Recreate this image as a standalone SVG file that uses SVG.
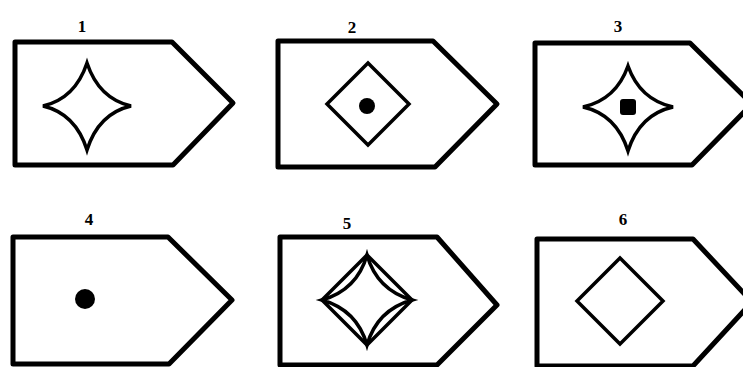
<svg xmlns="http://www.w3.org/2000/svg" width="743" height="367" viewBox="0 0 743 367">
<style>
.box{fill:#fff;stroke:#000;stroke-width:5;stroke-linejoin:round}
.sh{fill:none;stroke:#000;stroke-width:3.5;stroke-linejoin:miter}
.lbl{font-family:"Liberation Serif",serif;font-weight:bold;font-size:17px;text-anchor:middle;fill:#000}
</style>
<rect width="743" height="367" fill="#fff"/>
<g id="panel1">
<path class="box" d="M15,42 H172 L233,103 L173,165 H15 Z"/>
<path class="sh" d="M87,63 C93,81 105,100 131,106 C105,112 93,131 87,150 C81,131 69,112 43,106 C69,100 81,81 87,63 Z"/>
<text class="lbl" x="82" y="32">1</text>
</g>
<g id="panel2">
<path class="box" d="M278,41 H433 L497,104 L435,167 H278 Z"/>
<path class="sh" d="M368,63 L409,104 L368,145 L327,104 Z"/>
<circle cx="367" cy="106" r="8"/>
<text class="lbl" x="352" y="33">2</text>
</g>
<g id="panel3">
<path class="box" d="M535,43 H690 L752,104 L692,165 H535 Z"/>
<path class="sh" d="M628,66 C634,83 646,101 673,107 C646,113 634,132 628,151 C622,132 610,113 583,107 C610,101 622,83 628,66 Z"/>
<rect x="620" y="99" width="16" height="16" rx="3"/>
<text class="lbl" x="618" y="32">3</text>
</g>
<g id="panel4">
<path class="box" d="M13,237 H168 L232,300 L169,364 H13 Z"/>
<circle cx="85" cy="299" r="10"/>
<text class="lbl" x="89" y="225">4</text>
</g>
<g id="panel5">
<path class="box" d="M280,237 H437 L497,305 L437,365 H280 Z"/>
<path class="sh" d="M367,255 L412,300 L367,345 L322,300 Z"/>
<path class="sh" d="M367,255 Q377,290 412,300 Q377,310 367,345 Q357,310 322,300 Q357,290 367,255 Z"/>
<text class="lbl" x="347" y="229">5</text>
</g>
<g id="panel6">
<path class="box" d="M537,239 H693 L752,302 L693,366 H537 Z"/>
<path class="sh" d="M620,258 L663,301 L620,344 L577,301 Z"/>
<text class="lbl" x="623" y="225">6</text>
</g>
</svg>
